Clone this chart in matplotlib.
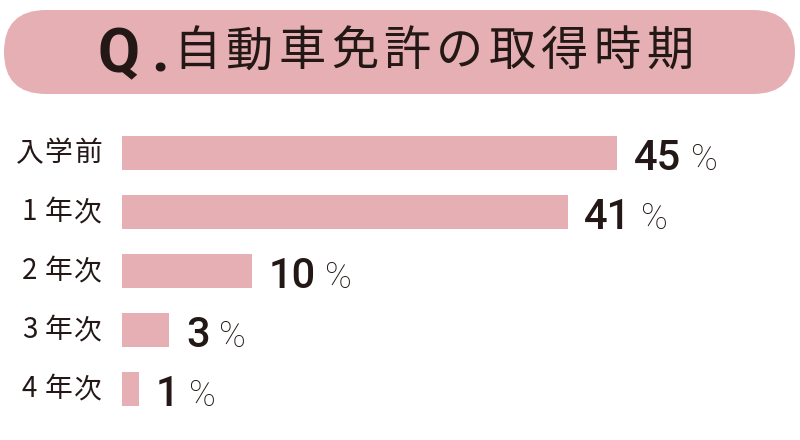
import matplotlib
matplotlib.use('Agg')
import matplotlib.pyplot as plt
from matplotlib.patches import FancyBboxPatch

# ------------------------------------------------------------
# data
# ------------------------------------------------------------
title_q = 'Q.'
title = '自動車免許の取得時期'
categories = ['入学前', '1年次', '2年次', '3年次', '4年次']
values = [45, 40.5, 11.8, 4.3, 1.5]          # bar lengths
value_labels = ['45', '41', '10', '3', '1']  # printed (rounded) numbers

pink = '#e6afb4'
ink = '#231815'
jp = ['Noto Sans CJK JP', 'DejaVu Sans']

fig = plt.figure(figsize=(8, 4.4), dpi=100)

# ------------------------------------------------------------
# title pill (pixel coordinates)
# ------------------------------------------------------------
deco = fig.add_axes([0, 0, 1, 1])
deco.set_xlim(0, 800)
deco.set_ylim(440, 0)
deco.axis('off')
pill = FancyBboxPatch((4 + 42, 10 + 42), 795 - 4 - 84, 0,
                      boxstyle='round,pad=42,rounding_size=42',
                      fc=pink, ec='none')
deco.add_patch(pill)
deco.text(98, 72, title_q[0], fontsize=44, fontweight='bold', family='Roboto',
          color=ink, ha='left', va='baseline')
deco.text(151, 72, title_q[1], fontsize=44, fontweight='bold', family='Roboto',
          color=ink, ha='left', va='baseline')
for i, ch in enumerate(title):
    deco.text(197 + i * 52.5, 52, ch, fontsize=34, family=jp, color=ink,
              ha='center', va='center')

# ------------------------------------------------------------
# bars
# ------------------------------------------------------------
ax = fig.add_axes([122 / 800, (440 - 418.5) / 440, 660 / 800, 295 / 440])
ypos = list(range(len(categories)))
ax.barh(ypos, values, height=0.576, color=pink, edgecolor='none')
ax.set_xlim(0, 60)
ax.set_ylim(len(categories) - 0.5, -0.5)
ax.set_yticks([])
ax.set_xticks([])
for s in ax.spines.values():
    s.set_visible(False)

# category labels, one character per cell (3-cell grid left of the bars)
cell_offsets = [-66.6, -45.7, -24.5]   # points from bar start
for y, cat in zip(ypos, categories):
    for off, ch in zip(cell_offsets, cat):
        ax.annotate(ch, xy=(0, y), xytext=(off, 0), textcoords='offset points',
                    fontsize=20, family=jp, color=ink, ha='center', va='center')

fig.canvas.draw()
r = fig.canvas.get_renderer()
for y, v, lab in zip(ypos, values, value_labels):
    t = ax.annotate(lab, xy=(v, y + 0.288), xytext=(12, 0),
                    textcoords='offset points', fontsize=30, family='Roboto',
                    fontweight='medium', color=ink, ha='left', va='baseline')
    bb = t.get_window_extent(r)
    ax.annotate('%', xy=(v, y + 0.288),
                xytext=(12 + bb.width * 72 / 100 + 7, 0),
                textcoords='offset points', fontsize=26, family='Roboto',
                fontweight='light', color=ink, ha='left', va='baseline')

fig.savefig('out.png', dpi=100)
